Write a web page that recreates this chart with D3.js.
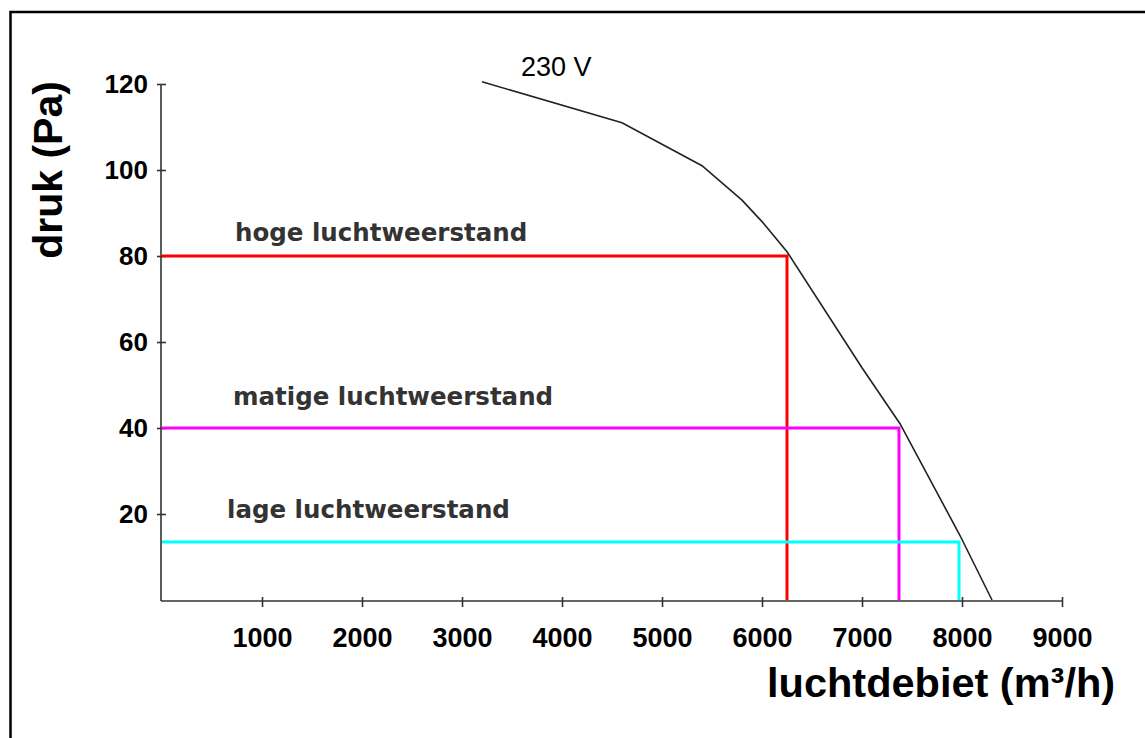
<!DOCTYPE html>
<html>
<head>
<meta charset="utf-8">
<script src="https://cdnjs.cloudflare.com/ajax/libs/d3/7.8.5/d3.min.js"></script>
<style>
  body { margin: 0; background: #fff; }
  svg { display: block; }
  .tick text { font-family: "Liberation Sans", Arial, sans-serif; font-weight: bold; fill: #000; }
</style>
</head>
<body>
<div class="chart"></div>
<script>
// fan curve (230 V), luchtdebiet vs druk
var flow = [3200, 4600, 5400, 5800, 6000, 6250, 7000, 7380, 7980, 8300],
    pressure = [120.5, 111, 101, 93, 88, 81, 54, 41, 15, 0];

// operating points (resistance curves)
var levels = ["hoge luchtweerstand", "matige luchtweerstand", "lage luchtweerstand"],
    levelPressure = [80, 40, 13.5],
    levelFlow = [6250, 7370, 7970],
    levelColors = ["#ff0000", "#ff00ff", "#00ffff"];

var xTicks = [1000, 2000, 3000, 4000, 5000, 6000, 7000, 8000, 9000],
    yTicks = [20, 40, 60, 80, 100, 120];

var outerWidth = 1145,
    outerHeight = 738,
    xScale = d3.scaleLinear().domain([0, 9000]).range([162, 1062]),
    yScale = d3.scaleLinear().domain([0, 120]).range([600, 84]);

var svg = d3.select(".chart").append("svg")
    .attr("width", outerWidth)
    .attr("height", outerHeight);

// frame round the picture (right & bottom fall outside)
svg.append("path")
    .attr("d", "M10.5,738V12H1145")
    .style("fill", "none")
    .style("stroke", "#000")
    .style("stroke-width", 2.5);

// Axes
var xAxis = d3.axisBottom(xScale).tickValues(xTicks).tickFormat(d3.format("d"))
    .tickSizeInner(6).tickSizeOuter(0).tickPadding(16);
var yAxis = d3.axisLeft(yScale).tickValues(yTicks).tickFormat(d3.format("d"))
    .tickSizeInner(4).tickSizeOuter(0).tickPadding(10);

var gx = svg.append("g")
    .attr("class", "xAxis")
    .attr("transform", "translate(0,601)")
    .call(xAxis);
gx.select(".domain").attr("d", "M" + (xScale(0) - 1) + ",0H" + xScale(9000));
gx.selectAll(".tick line").attr("y1", -4);
gx.selectAll(".tick text").style("font-size", "27px").attr("dy", "0.9em");

var gy = svg.append("g")
    .attr("class", "yAxis")
    .attr("transform", "translate(161,0)")
    .call(yAxis);
gy.select(".domain").attr("d", "M0," + yScale(120) + "V" + 601);
gy.selectAll(".tick line").attr("x2", 5).attr("x1", -4);
gy.selectAll(".tick text").style("font-size", "26px").attr("x", -13);

svg.selectAll(".domain, .tick line")
    .style("stroke", "#333")
    .style("stroke-width", 1.6);

// resistance lines
var level = svg.selectAll(".level")
    .data(levels)
    .enter().append("g")
    .attr("class", "level");

level.append("path")
    .attr("d", function(d, i) {
        return "M" + xScale(0) + "," + yScale(levelPressure[i]) +
            "H" + xScale(levelFlow[i]) + "V" + yScale(0);
    })
    .style("fill", "none")
    .style("stroke", function(d, i) { return levelColors[i]; })
    .style("stroke-width", 3);

var labelPos = [[235, 241], [233, 405], [227, 518]];
level.append("text")
    .attr("x", function(d, i) { return labelPos[i][0]; })
    .attr("y", function(d, i) { return labelPos[i][1]; })
    .style("font-family", "'DejaVu Sans', Verdana, sans-serif")
    .style("font-weight", "bold")
    .style("font-size", "24.5px")
    .style("fill", "#333")
    .text(function(d) { return d; });

// fan curve
var line = d3.line()
    .x(function(d, i) { return xScale(flow[i]); })
    .y(function(d) { return yScale(d); });

svg.append("path")
    .datum(pressure)
    .attr("d", line)
    .style("fill", "none")
    .style("stroke", "#222")
    .style("stroke-width", 1.6);

svg.append("text")
    .attr("x", 521)
    .attr("y", 76)
    .style("font-family", "'Liberation Sans', Arial, sans-serif")
    .style("font-size", "27px")
    .style("fill", "#000")
    .text("230 V");

// axis titles
svg.append("text")
    .attr("transform", "translate(62,170) rotate(-90)")
    .attr("text-anchor", "middle")
    .style("font-family", "'Liberation Sans', Arial, sans-serif")
    .style("font-weight", "bold")
    .style("font-size", "41px")
    .text("druk (Pa)");

svg.append("text")
    .attr("x", 767)
    .attr("y", 697)
    .style("font-family", "'Liberation Sans', Arial, sans-serif")
    .style("font-weight", "bold")
    .style("font-size", "41.5px")
    .text("luchtdebiet (m\u00b3/h)");
</script>
</body>
</html>
